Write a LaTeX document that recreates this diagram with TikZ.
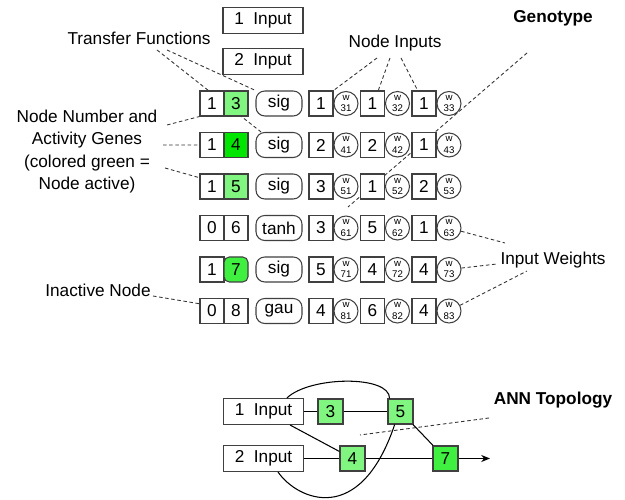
\documentclass[tikz,border=0pt]{standalone}
\usepackage{fontspec}
\setmainfont{Liberation Sans}
\usepackage{tikz}
\usetikzlibrary{backgrounds,calc,arrows.meta}

\definecolor{litegreen}{RGB}{128,245,128}
\definecolor{fullgreen}{RGB}{0,230,0}
\definecolor{roundgreen}{RGB}{64,240,64}

\begin{document}
\begin{tikzpicture}[
        gene/.style={draw=black!75, line width=0.6pt, fill=white, minimum width=0.48cm, minimum height=0.5cm, inner sep=0pt, font=\fontsize{9.8}{12}\selectfont},
        func/.style={gene, rounded corners=5pt, minimum width=0.92cm},
        weight/.style={draw=black!75, line width=0.6pt, fill=white, circle, minimum size=0.48cm, inner sep=0pt, align=center, font=\fontsize{5.5}{6.4}\selectfont},
        inbox/.style={gene, minimum width=1.6cm, minimum height=0.52cm},
        topo/.style={gene, minimum width=0.5cm},
        actlite/.style={fill=litegreen},
        actfull/.style={fill=fullgreen},
        actround/.style={fill=roundgreen, rounded corners=3pt},
        inact/.style={fill=white},
        note/.style={draw=none, color=black, align=center, font=\fontsize{9.8}{12.7}\selectfont},
        leader/.style={draw=black!80, line width=0.5pt, dash pattern=on 2pt off 1.5pt},
        wire/.style={draw=black, line width=0.6pt}
    ]
        \useasboundingbox (0,0) rectangle (12.5,10);

        % inputs
        \node[inbox] (in1) at (5.26,9.59) {1~~Input};
        \node[inbox] (in2) at (5.26,8.77) {2~~Input};

        % genotype rows
        \foreach \n/\act/\fn/\ia/\ib/\ic/\st in {3/1/sig/1/1/1/actlite, 4/1/sig/2/2/1/actfull, 5/1/sig/3/1/2/actlite,
                6/0/tanh/3/5/1/inact, 7/1/sig/5/4/4/actround, 8/0/gau/4/6/4/inact}
        {
            \pgfmathsetmacro{\y}{9.59-0.83*(\n-1)}
            \node[gene] (a\n) at (4.24,\y) {\act};
            \node[gene, \st] (b\n) at (4.72,\y) {\n};
            \node[func] (f\n) at (5.58,\y) {\fn};
            \node[gene] (i\n1) at (6.42,\y) {\ia};
            \node[weight] (w\n1) at (6.92,\y) {w\\\n1};
            \node[gene] (i\n2) at (7.45,\y) {\ib};
            \node[weight] (w\n2) at (7.95,\y) {w\\\n2};
            \node[gene] (i\n3) at (8.48,\y) {\ic};
            \node[weight] (w\n3) at (8.98,\y) {w\\\n3};
        }

        % Text
        \node[note] (tf) at (2.78,9.24) {Transfer Functions};
        \node[note] (nn) at (1.74,6.97) {Node Number and\\Activity Genes\\(colored green =\\Node active)};
        \node[note] (ia) at (1.96,4.20) {Inactive Node};
        \node[note] (ni) at (7.90,9.14) {Node Inputs};
        \node[note, font=\fontsize{9.8}{12}\selectfont\bfseries] (gt) at (11.06,9.64) {Genotype};
        \node[note] (iw) at (11.06,4.80) {Input Weights};
        \node[note, font=\fontsize{9.8}{12}\selectfont\bfseries] (at) at (11.06,2.00) {ANN Topology};

        % coordinates
        \coordinate (tf1) at (3.14,9.00);
        \coordinate (tf2) at (3.34,9.00);
        \coordinate (nn1) at (3.34,7.50);
        \coordinate (nn2) at (3.26,7.10);
        \coordinate (nn3) at (3.30,6.64);
        \coordinate (ia1) at (3.06,4.08);
        \coordinate (ni1) at (7.54,8.84);
        \coordinate (ni2) at (7.80,8.84);
        \coordinate (ni3) at (8.02,8.84);
        \coordinate (gt1) at (10.54,8.94);
        \coordinate (gt2) at (6.96,5.86);
        \coordinate (iw1) at (10.10,5.14);
        \coordinate (iw2) at (9.94,4.72);
        \coordinate (iw3) at (10.54,4.58);
        \coordinate (at1) at (9.78,1.64);
        \coordinate (at2) at (7.20,1.30);

        % leader lines
        \begin{scope}[on background layer]
            \draw[leader] (tf1) -- (f4.144);
            \draw[leader] (tf2) -- (f3.north west);
            \draw[leader] (nn1) -- (a3.south west);
            \draw[leader] (nn2) -- (a4.west);
            \draw[leader] (nn3) -- (a5.145);
            \draw[leader] (ia1) -- (a8.150);
            \draw[leader] (ni1) -- (i31.north east);
            \draw[leader] (ni2) -- (i32.66);
            \draw[leader] (ni3) -- (i33.116);
            \draw[leader] (gt1) -- (gt2);
            \draw[leader] (w63) -- (iw1);
            \draw[leader] (w73) -- (iw2);
            \draw[leader] (w83) -- (iw3);
        \end{scope}
        \draw[leader] (at1) -- (at2);

        %%%%%%%%%%%%%%%%%%%%%%%%%%%%%%%%%%%%%%%%%%%%%
        % topology
        \node[inbox] (tin1) at (5.27,1.77) {1~~Input};
        \node[inbox] (tin2) at (5.27,0.83) {2~~Input};
        \node[topo, actlite] (t3) at (6.61,1.77) {3};
        \node[topo, actlite] (t5) at (8.01,1.77) {5};
        \node[topo, actlite] (t4) at (7.05,0.83) {4};
        \node[topo, fill=roundgreen] (t7) at (8.91,0.83) {7};
        \coordinate (out) at (9.80,0.83);

        % connections
        \draw[wire] (tin1) -- (t3);
        \draw[wire] (t3) -- (t5);
        \draw[wire] (tin2) -- (t4);
        \draw[wire] (tin1.-27) -- (t4);
        \draw[wire] (t4) -- (t7);
        \draw[wire] (t5) -- (t7);
        \draw[wire] (tin1.30) .. controls (6.2,2.48) and (7.8,2.5) .. (t5.130);
        \draw[wire] (tin2.-43) .. controls (5.95,0.0) and (7.2,-0.55) .. (t5.-114);
        \draw[wire, -{Stealth[length=5pt, width=4pt]}] (t7) -- (out);

    \end{tikzpicture}
\end{document}
